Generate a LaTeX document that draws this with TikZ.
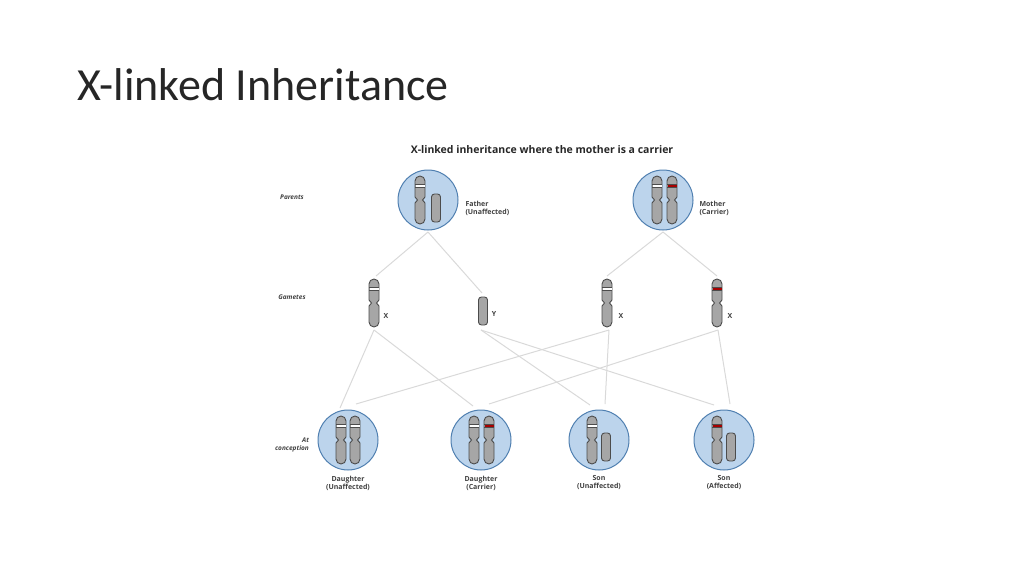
\documentclass[tikz,border=0pt]{standalone}
\usepackage{fontspec}
\setmainfont{Carlito}
\newfontfamily\dfont{Open Sans}
\definecolor{cellfill}{HTML}{BCD4EC}
\definecolor{celldraw}{HTML}{4F7FB0}
\begin{document}
\begin{tikzpicture}[x=1pt,y=-1pt,
  chr/.style={fill=black!35,draw=black!70,line width=0.9pt},
  cell/.style={circle,minimum size=60pt,inner sep=0pt,fill=cellfill,draw=celldraw,line width=1pt},
  conn/.style={draw=gray!30,line width=1pt},
  lbl/.style={font=\dfont\fontsize{7}{8}\selectfont\bfseries,text=black!75,align=center},
  side/.style={font=\dfont\fontsize{6.5}{7.5}\selectfont\bfseries\itshape,text=black!75,align=right},
  xchr/.pic={\draw[chr] (-5,-19) arc (180:360:5) -- (5,-3) -- (2.5,0) -- (5,3) -- (5,19) arc (0:180:5) -- (-5,3) -- (-2.5,0) -- (-5,-3) -- cycle;
     \fill[#1] (-4.5,-16) rectangle (4.5,-13);
     \draw[black!70,line width=0.6pt] (-5,-16) -- (5,-16) (-5,-13) -- (5,-13);},
  ychr/.pic={\draw[chr,rounded corners=3] (-4.5,-14) rectangle (4.5,14);}
]
\useasboundingbox (0,0) rectangle (1024,576);
\node[anchor=base west,font=\fontsize{46}{50}\selectfont,text=black!85] (title) at (74,100) {X-linked Inheritance};
\node[font=\dfont\fontsize{10.5}{12}\selectfont\bfseries,text=black!85] (sub) at (542,150) {X-linked inheritance where the mother is a carrier};
\node[side] (lp) at (292,197) {Parents};
\node[side] (lg) at (292,297) {Gametes};
\node[side] (lc) at (292,445) {At\\conception};
% parents
\node[cell] (fa) at (428,200) {};
\node[cell] (mo) at (663,200) {};
\pic at (420,200) {xchr=white};
\pic at (436,208) {ychr};
\pic at (657,200) {xchr=white};
\pic at (672,200) {xchr=red!65!black};
\node[lbl,align=left,anchor=west] (fat) at (462,208) {Father\\(Unaffected)};
\node[lbl,align=left,anchor=west] (mot) at (696,208) {Mother\\(Carrier)};
% gametes
\coordinate (g1) at (374,303); \coordinate (g2) at (483,311);
\coordinate (g3) at (607,303); \coordinate (g4) at (717,303);
\pic at (g1) {xchr=white}; \pic at (g2) {ychr};
\pic at (g3) {xchr=white}; \pic at (g4) {xchr=red!65!black};
\node[lbl] (x1) at (386,316) {X};
\node[lbl] (y1) at (494,314) {Y};
\node[lbl] (x2) at (621,316) {X};
\node[lbl] (x3) at (730,316) {X};
% children
\node[cell] (c1) at (348,440) {};
\node[cell] (c2) at (481,440) {};
\node[cell] (c3) at (599,440) {};
\node[cell] (c4) at (724,440) {};
\pic at (341,440) {xchr=white}; \pic at (355,440) {xchr=white};
\pic at (474,440) {xchr=white}; \pic at (489,440) {xchr=red!65!black};
\pic at (592,440) {xchr=white}; \pic at (606,447) {ychr};
\pic at (717,440) {xchr=red!65!black}; \pic at (731,447) {ychr};
\node[lbl] at (348,483) {Daughter\\(Unaffected)};
\node[lbl] at (481,483) {Daughter\\(Carrier)};
\node[lbl] at (599,483) {Son\\(Unaffected)};
\node[lbl] at (724,483) {Son\\(Affected)};
% connectors
\coordinate (fb) at (428,232); \coordinate (mb) at (663,232);
\coordinate (g1t) at (376,276); \coordinate (g2t) at (482,293);
\coordinate (g3t) at (607,276); \coordinate (g4t) at (717,276);
\draw[conn] (fb) -- (g1t); \draw[conn] (fb) -- (g2t);
\draw[conn] (mb) -- (g3t); \draw[conn] (mb) -- (g4t);
\coordinate (g1b) at (374,330); \coordinate (g2b) at (481,330);
\coordinate (g3b) at (609,330); \coordinate (g4b) at (718,330);
\coordinate (c1a) at (340,408); \coordinate (c1b) at (356,404);
\coordinate (c2a) at (473,406); \coordinate (c2b) at (489,404);
\coordinate (c3a) at (590,405); \coordinate (c3b) at (605,404);
\coordinate (c4a) at (714,405); \coordinate (c4b) at (730,404);
\draw[conn] (g1b) -- (c1a); \draw[conn] (g1b) -- (c2a);
\draw[conn] (g2b) -- (c3a); \draw[conn] (g2b) -- (c4a);
\draw[conn] (g3b) -- (c1b); \draw[conn] (g3b) -- (c3b);
\draw[conn] (g4b) -- (c2b); \draw[conn] (g4b) -- (c4b);
\end{tikzpicture}
\end{document}
